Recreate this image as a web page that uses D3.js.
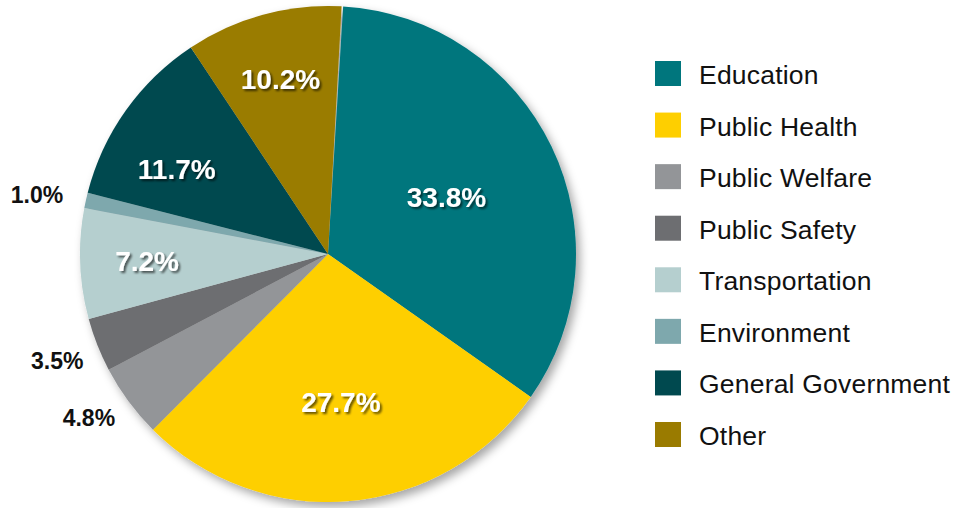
<!DOCTYPE html>
<html>
<head>
<meta charset="utf-8">
<script src="https://cdn.jsdelivr.net/npm/d3@7"></script>
<style>
  body { margin: 0; background: #fff; }
  svg { display: block; font-family: "Liberation Sans", Arial, sans-serif; }
</style>
</head>
<body>
<svg id="chart" width="958" height="508"></svg>
<script>
// data
const categories = ["Education", "Public Health", "Public Welfare", "Public Safety",
                    "Transportation", "Environment", "General Government", "Other"];
const shares = [33.8, 27.7, 4.8, 3.5, 7.2, 1.0, 11.7, 10.2];
const labels = ["33.8%", "27.7%", "4.8%", "3.5%", "7.2%", "1.0%", "11.7%", "10.2%"];
const colors = ["#00767d", "#fecf00", "#939598", "#6d6e71",
                "#b5cfcf", "#7ea8ad", "#00494f", "#9a7b00"];

let svg = d3.select("#chart");
let cx = 328, cy = 254, radius = 248;

let defs = svg.append("defs");
let pieShadow = defs.append("filter").attr("id", "pieShadow")
  .attr("x", "-10%").attr("y", "-10%").attr("width", "125%").attr("height", "125%");
pieShadow.append("feDropShadow")
  .attr("dx", 4).attr("dy", 5).attr("stdDeviation", 5)
  .attr("flood-color", "#000").attr("flood-opacity", 0.35);

let textShadow = defs.append("filter").attr("id", "textShadow")
  .attr("x", "-20%").attr("y", "-30%").attr("width", "150%").attr("height", "170%");
textShadow.append("feDropShadow")
  .attr("dx", 2).attr("dy", 2).attr("stdDeviation", 1)
  .attr("flood-color", "#000").attr("flood-opacity", 0.6);

let startA = 3.5 * Math.PI / 180;
let pie = d3.pie().sort(null).value(d => d)
  .startAngle(startA).endAngle(startA + 2 * Math.PI * d3.sum(shares) / 100);
let arcs = pie(shares);

let arc = d3.arc().innerRadius(0).outerRadius(radius);

let g = svg.append("g").attr("transform", `translate(${cx},${cy})`);

g.append("g").attr("filter", "url(#pieShadow)")
  .selectAll("path")
  .data(arcs)
  .enter()
  .append("path")
  .attr("d", arc)
  .attr("fill", (d, i) => colors[i]);

// small slices get their labels outside, the rest inside
let inside = [0, 1, 4, 6, 7];
let labelR = { 0: 0.53, 1: 0.6, 4: 0.73, 6: 0.7, 7: 0.73 };
let outerR = { 2: 290, 3: 291, 5: 297 };

function pointAt(a, r) {
  return [Math.sin(a) * r, -Math.cos(a) * r];
}

g.selectAll("text.inner")
  .data(arcs.filter((d, i) => inside.includes(i)))
  .enter()
  .append("text")
  .attr("class", "inner")
  .attr("filter", "url(#textShadow)")
  .attr("text-anchor", "middle")
  .attr("dy", "0.36em")
  .attr("font-size", 28)
  .attr("font-weight", "bold")
  .attr("fill", "#fff")
  .attr("transform", d => {
    let mid = (d.startAngle + d.endAngle) / 2;
    if (d.index == 6) mid -= 6 * Math.PI / 180;
    let p = pointAt(mid, radius * labelR[d.index]);
    return `translate(${p[0]},${p[1]})`;
  })
  .text(d => labels[d.index]);

g.selectAll("text.outer")
  .data(arcs.filter((d, i) => !inside.includes(i)))
  .enter()
  .append("text")
  .attr("class", "outer")
  .attr("text-anchor", "middle")
  .attr("dy", "0.36em")
  .attr("font-size", 23)
  .attr("font-weight", "bold")
  .attr("fill", "#111")
  .attr("transform", d => {
    let mid = (d.startAngle + d.endAngle) / 2;
    if (d.index == 2) mid += 2 * Math.PI / 180;
    if (d.index == 5) mid -= 1 * Math.PI / 180;
    let p = pointAt(mid, outerR[d.index]);
    return `translate(${p[0]},${p[1]})`;
  })
  .text(d => labels[d.index]);

// legend
let rowY = d3.scalePoint().domain(categories).range([61, 422]);
let legend = svg.append("g");
let rows = legend.selectAll("g")
  .data(categories)
  .enter()
  .append("g")
  .attr("transform", d => `translate(655,${rowY(d)})`);

rows.append("rect")
  .attr("width", 26)
  .attr("height", 25)
  .attr("fill", (d, i) => colors[i]);

rows.append("text")
  .attr("x", 44)
  .attr("y", 23)
  .attr("font-size", 26.5)
  .attr("letter-spacing", 0.2)
  .attr("fill", "#111")
  .text(d => d);
</script>
</body>
</html>
